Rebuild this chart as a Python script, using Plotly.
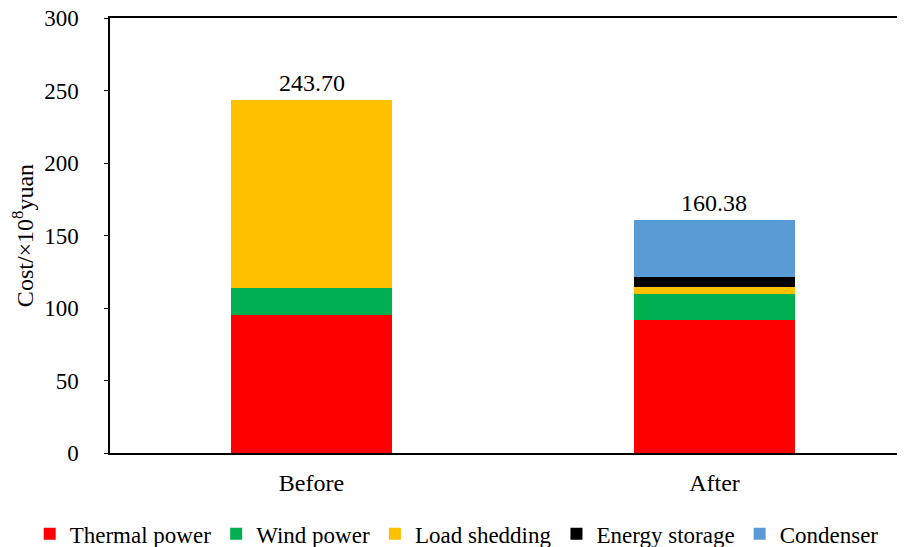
import plotly.graph_objects as go

categories = ["Before", "After"]
thermal = [95.4, 91.7]
wind = [18.4, 18.0]
load_shedding = [129.9, 4.6]
energy_storage = [0.0, 6.9]
condenser = [0.0, 39.18]
totals = [243.70, 160.38]
total_labels = ["243.70", "160.38"]

series = [
    ("Thermal power", thermal, "#FF0000"),
    ("Wind power", wind, "#00B050"),
    ("Load shedding", load_shedding, "#FFC000"),
    ("Energy storage", energy_storage, "#000000"),
    ("Condenser", condenser, "#5B9BD5"),
]

FONT = "Liberation Serif, Times New Roman, serif"

fig = go.Figure()
for name, vals, col in series:
    fig.add_trace(go.Bar(x=categories, y=vals, name=name, marker=dict(color=col, line=dict(width=0))))

for c, t, lab in zip(categories, totals, total_labels):
    fig.add_annotation(x=c, y=t, text=lab, showarrow=False, yanchor="bottom", yshift=2,
                       font=dict(family=FONT, size=24, color="#000000"))

fig.update_layout(
    barmode="stack",
    bargap=0.6,
    width=905, height=547,
    margin=dict(l=102, r=0, t=10, b=102, autoexpand=False),
    paper_bgcolor="white", plot_bgcolor="white",
    font=dict(family=FONT, size=24, color="#000000"),
    showlegend=True,
    legend=dict(orientation="h", x=-0.1, xanchor="left",
                y=-0.186, yanchor="middle",
                font=dict(family=FONT, size=23), traceorder="normal", itemwidth=30,
                tracegroupgap=0),
    xaxis=dict(range=[-0.5, 1.4926], showline=True, linecolor="#000000", linewidth=1.5,
               mirror=True, ticks="", showgrid=False, tickfont=dict(size=24),
               automargin=False, ticklabelstandoff=7),
    yaxis=dict(range=[0, 300], dtick=50, showline=True, linecolor="#000000", linewidth=1.5,
               ticks="outside", ticklen=4, tickcolor="#000000", showgrid=False, zeroline=False,
               tickfont=dict(size=23), automargin=False, ticklabelstandoff=21,
               ticklabeloverflow="allow",
               title=dict(text="Cost/×10<sup>8</sup>yuan", font=dict(size=24), standoff=12)),
)

fig.write_html("out.html")
